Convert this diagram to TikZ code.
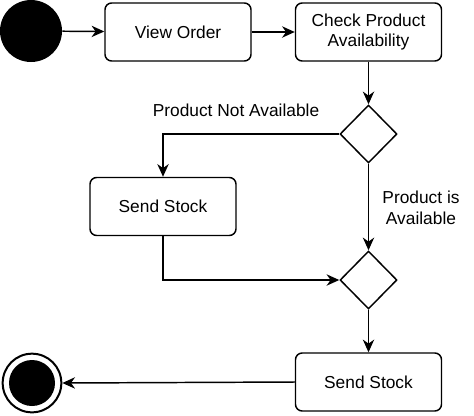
\documentclass[tikz,border=0pt]{standalone}
\usepackage{fontspec}
\setmainfont{Liberation Sans}
\usetikzlibrary{shapes.geometric,arrows.meta}
\tikzset{
  act/.style={draw, rounded corners=5pt, line width=1.1pt, minimum width=109.5pt, minimum height=43.5pt, align=center, inner sep=0pt},
  dec/.style={draw, diamond, line width=1.1pt, minimum width=42.75pt, minimum height=43.5pt, inner sep=0pt},
  flow/.style={line width=1.1pt, -{Stealth[length=9.5pt,width=8.5pt,inset=3pt]}},
  lbl/.style={align=center, inner sep=0pt},
}
\begin{document}
\begin{tikzpicture}[x=0.75pt, y=-0.75pt, font=\fontsize{13pt}{15.5pt}\selectfont]
\useasboundingbox (0,0) rectangle (474,415);
\node[circle, fill=black, minimum size=46.5pt, inner sep=0pt] (start) at (31,31) {};
\node[act] (view) at (178,32) {View Order};
\node[act] (check) at (368.5,32) {Check Product\\Availability};
\node[dec] (d1) at (368.5,134) {};
\node[act] (ss1) at (163,206.5) {Send Stock};
\node[dec] (d2) at (368.5,280) {};
\node[act] (ss2) at (368.5,382) {Send Stock};
\node[circle, draw, line width=1.5pt, minimum size=44pt, inner sep=0pt] (endo) at (32,383) {};
\node[circle, fill=black, minimum size=34.5pt, inner sep=0pt] (endi) at (32,383) {};
\node[lbl] (lna) at (236,110) {Product Not Available};
\node[lbl] (lia) at (421,208) {Product is\\Available};
\draw[flow] (start) -- (view);
\draw[flow] (view) -- (check);
\draw[flow] (check) -- (d1);
\draw[flow] (d1.west) -| (ss1.north);
\draw[flow] (d1.south) -- (d2.north);
\draw[flow] (ss1.south) |- (d2.west);
\draw[flow] (d2.south) -- (ss2.north);
\draw[flow] (ss2.west) -- (endo.east);
\end{tikzpicture}
\end{document}
